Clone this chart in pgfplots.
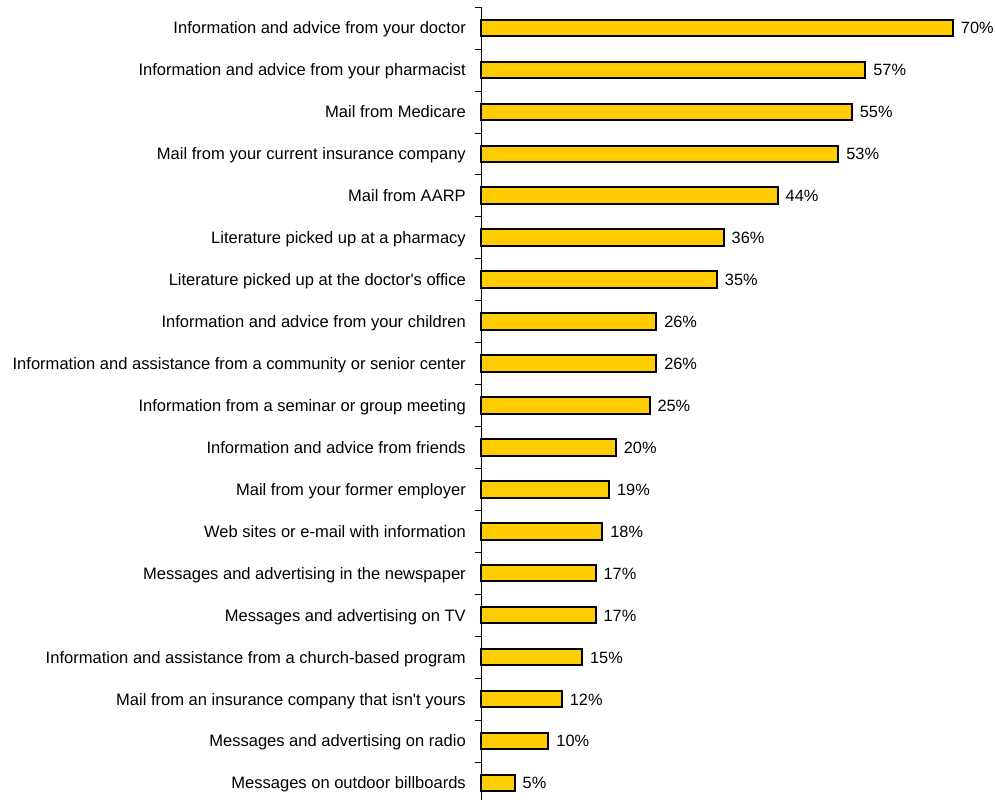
\documentclass[border=0pt]{standalone}
\usepackage{pgfplots}
\pgfplotsset{compat=1.18}
\usepackage{fontspec}
\setmainfont{Liberation Sans}
\definecolor{baryellow}{HTML}{FFCC00}
\begin{document}
\begin{tikzpicture}
\useasboundingbox (0,0) rectangle (996bp,800bp);
\begin{axis}[
  at={(481bp,793bp)}, anchor=north west,
  scale only axis,
  width=472bp, height=796.9bp,
  xmin=0, xmax=70,
  ymin=-0.5, ymax=18.5,
  y dir=reverse,
  axis x line=none,
  axis y line*=left,
  axis line style={black, line width=0.6pt},
  xbar, bar width=16.5bp,
  ytick={0,...,18},
  major tick length=0pt,
  /pgf/number format/assume math mode=true,
  yticklabels={
    Information and advice from your doctor,
    Information and advice from your pharmacist,
    Mail from Medicare,
    Mail from your current insurance company,
    Mail from AARP,
    Literature picked up at a pharmacy,
    Literature picked up at the doctor\textquotesingle s office,
    Information and advice from your children,
    Information and assistance from a community or senior center,
    Information from a seminar or group meeting,
    Information and advice from friends,
    Mail from your former employer,
    Web sites or e-mail with information,
    Messages and advertising in the newspaper,
    Messages and advertising on TV,
    Information and assistance from a church-based program,
    Mail from an insurance company that isn\textquotesingle t yours,
    Messages and advertising on radio,
    Messages on outdoor billboards},
  yticklabel style={font=\fontsize{16.6}{19}\selectfont, inner sep=0pt, xshift=-15bp, anchor=east, text height=12bp, text depth=0bp},
  extra y ticks={-0.5,0.5,...,17.5},
  extra y tick labels={},
  extra y tick style={major tick length=6bp, tick align=outside, tick style={black, line width=0.6pt}},
  point meta=x,
  nodes near coords={\pgfmathprintnumber{\pgfplotspointmeta}\%},
  nodes near coords style={font=\fontsize{16.4}{19}\selectfont, anchor=west, inner sep=0pt, xshift=7bp, text height=12bp, text depth=0bp},
  clip=false,
]
\addplot[draw=black, line width=2bp, fill=baryellow] table[x=v, y=i] {
i v
0 70
1 57
2 55
3 53
4 44
5 36
6 35
7 26
8 26
9 25
10 20
11 19
12 18
13 17
14 17
15 15
16 12
17 10
18 5
};
\end{axis}
\end{tikzpicture}
\end{document}
